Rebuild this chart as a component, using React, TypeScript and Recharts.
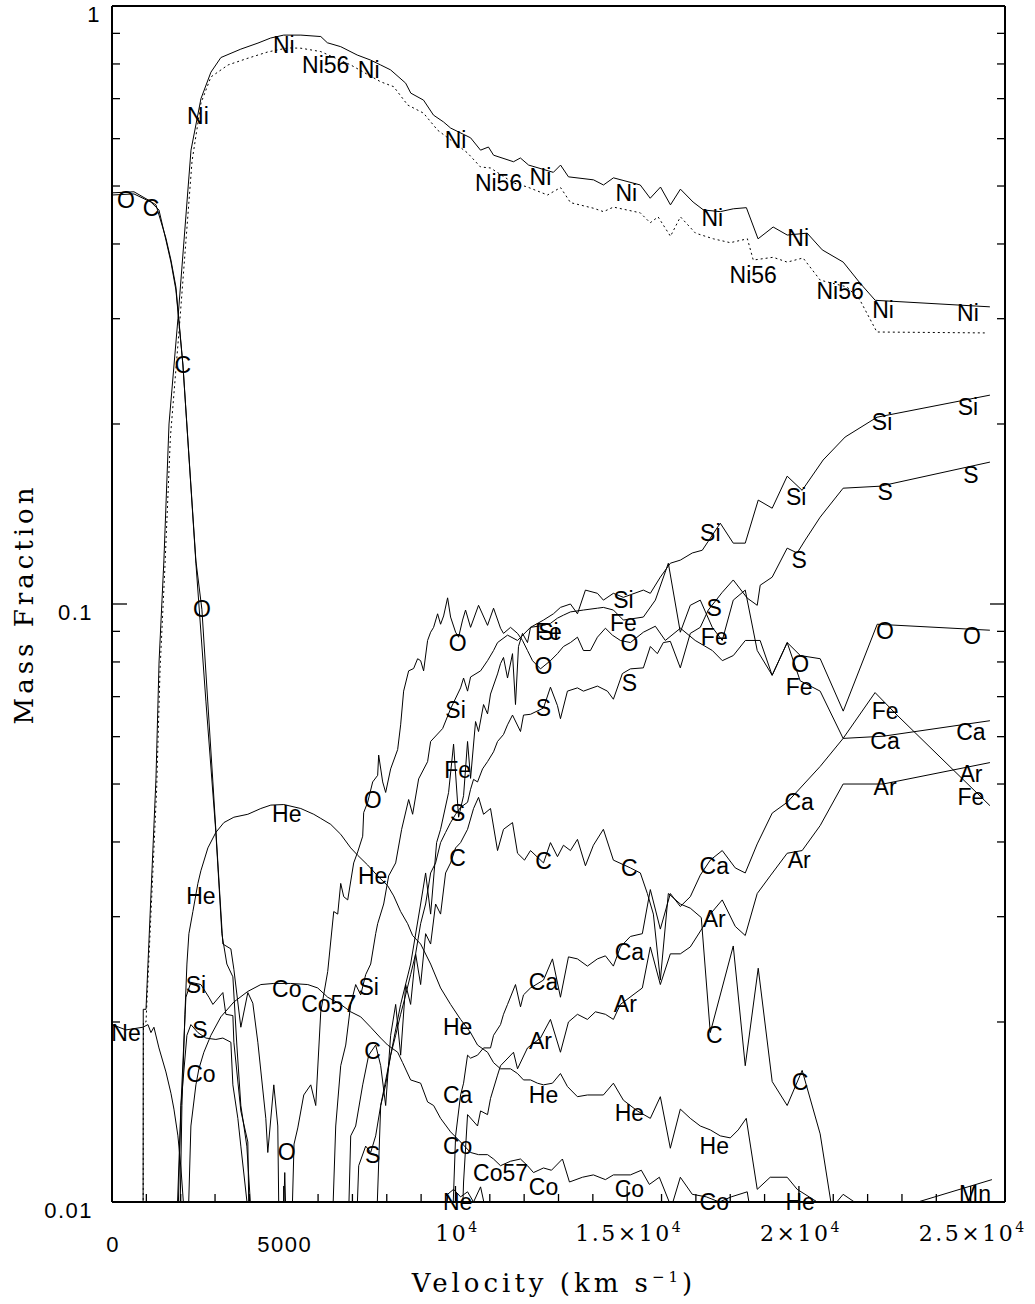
import React from 'react';
import { ComposedChart, Line, Scatter, XAxis, YAxis } from 'recharts';

type P = [number, number];

const niData: P[] = [[900,0.004],[910,0.021],[990,0.021],[1280,0.051],[1370,0.08],[1510,0.118],[1660,0.2],[1920,0.3],[2300,0.574],[2590,0.70],[2880,0.775],[3170,0.82],[3750,0.847],[4250,0.867],[4620,0.884],[5000,0.894],[5500,0.894],[6080,0.889],[6270,0.868],[6660,0.855],[7140,0.828],[7530,0.812],[7820,0.797],[8110,0.782],[8550,0.743],[8700,0.715],[9070,0.696],[9360,0.657],[9650,0.64],[9860,0.625],[10440,0.602],[10730,0.574],[10960,0.581],[11110,0.563],[11690,0.549],[11890,0.557],[12130,0.542],[12850,0.527],[13060,0.542],[13290,0.518],[14020,0.512],[14310,0.502],[14600,0.516],[15380,0.502],[15670,0.477],[15970,0.498],[16260,0.465],[16550,0.494],[16920,0.47],[17220,0.456],[17710,0.453],[18090,0.458],[18470,0.46],[18810,0.408],[19250,0.427],[19660,0.414],[20240,0.417],[20680,0.391],[21290,0.373],[21780,0.344],[22220,0.322],[25560,0.314]];

const ni56Data: P[] = [[900,0.004],[915,0.020],[990,0.020],[1300,0.049],[1400,0.078],[1540,0.115],[1700,0.19],[1960,0.29],[2330,0.55],[2590,0.688],[2880,0.761],[3380,0.797],[3960,0.818],[4540,0.838],[5120,0.851],[5500,0.85],[6080,0.839],[6950,0.797],[7820,0.747],[8200,0.733],[8610,0.683],[9070,0.662],[9480,0.62],[9860,0.597],[10350,0.568],[10730,0.538],[11020,0.536],[11690,0.506],[12100,0.498],[12680,0.483],[13060,0.497],[13350,0.469],[14020,0.459],[14310,0.453],[14600,0.461],[15380,0.451],[15670,0.434],[15900,0.444],[16260,0.412],[16550,0.444],[16990,0.417],[17510,0.408],[18000,0.402],[18500,0.408],[18670,0.376],[19250,0.38],[19660,0.373],[20120,0.379],[20620,0.348],[21400,0.339],[21780,0.322],[22270,0.285],[25410,0.284]];

const oData: P[] = [[0,0.487],[640,0.489],[1050,0.474],[1280,0.465],[1570,0.409],[1716,0.376],[1861,0.339],[2065,0.251],[2443,0.118],[2617,0.098],[2937,0.0504],[3228,0.027],[3461,0.0265],[3548,0.0245],[3751,0.0196],[3955,0.0224],[4100,0.0215],[4246,0.0185],[4478,0.0138],[4536,0.0121],[4711,0.0157],[4827,0.0134],[4900,0.006],[5030,0.0112],[5150,0.006],[5300,0.0125],[5409,0.0133],[5583,0.0151],[5787,0.0157],[5932,0.0145],[6078,0.0208],[6281,0.0243],[6456,0.0306],[6572,0.0303],[6659,0.0341],[6747,0.0324],[6863,0.032],[7037,0.0369],[7154,0.0385],[7299,0.0409],[7328,0.0448],[7444,0.0466],[7590,0.0504],[7735,0.0517],[7764,0.0559],[7881,0.0504],[7968,0.0484],[8113,0.053],[8317,0.0571],[8404,0.0628],[8491,0.0715],[8637,0.0773],[8782,0.078],[8898,0.081],[8986,0.0804],[9073,0.0773],[9189,0.0869],[9277,0.0897],[9364,0.0914],[9480,0.0963],[9567,0.0925],[9655,0.0955],[9771,0.1024],[9858,0.0951],[10004,0.0897],[10091,0.088],[10207,0.094],[10294,0.0977],[10440,0.0914],[10672,0.0995],[10934,0.0921],[11109,0.0984],[11312,0.0911],[11399,0.0893],[11603,0.0914],[11807,0.0893],[11952,0.0869],[12097,0.0836],[12243,0.0804],[12475,0.0779],[12766,0.0804],[12970,0.0826],[13144,0.0849],[13348,0.0862],[13552,0.088],[13726,0.0836],[13929,0.0836],[14133,0.088],[14366,0.0911],[14569,0.0887],[14802,0.0869],[15093,0.0862],[15471,0.0897],[15820,0.0918],[16110,0.0869],[16550,0.0911],[16980,0.0869],[17480,0.0836],[17770,0.0804],[18090,0.082],[18440,0.0869],[18870,0.0869],[19220,0.076],[19660,0.0862],[20040,0.082],[20620,0.081],[21290,0.0662],[22280,0.0925],[25560,0.0904]];

const cData: P[] = [[0,0.483],[640,0.485],[1134,0.47],[1367,0.456],[1570,0.406],[1716,0.373],[1861,0.335],[2065,0.251],[2443,0.117],[2734,0.0688],[3024,0.0415],[3199,0.0281],[3344,0.025],[3519,0.0238],[3635,0.0183],[3751,0.0145],[3926,0.0124],[4042,0.0097],[4100,0.005],[6717,0.004],[6950,0.0129],[7095,0.0134],[7299,0.0157],[7474,0.0176],[7677,0.0183],[7823,0.0169],[7968,0.0145],[8113,0.019],[8259,0.0214],[8404,0.0176],[8550,0.0231],[8695,0.0214],[8840,0.026],[8986,0.0231],[9131,0.0281],[9277,0.027],[9422,0.0315],[9567,0.0303],[9713,0.0355],[9858,0.0369],[10004,0.0391],[10149,0.0399],[10352,0.042],[10527,0.0455],[10672,0.0475],[10818,0.0445],[11021,0.0455],[11225,0.0387],[11399,0.042],[11661,0.0431],[11807,0.0383],[12010,0.0373],[12185,0.0387],[12563,0.0369],[12766,0.0399],[12970,0.0378],[13144,0.0395],[13348,0.0387],[13552,0.0404],[13784,0.0365],[14016,0.0395],[14307,0.042],[14598,0.0373],[15093,0.0362],[15383,0.0355],[15587,0.0328],[15762,0.0303],[15965,0.0235],[16198,0.0328],[16547,0.0315],[16837,0.031],[17157,0.0299],[17419,0.0192],[18088,0.0268],[18437,0.0169],[18815,0.0246],[19222,0.0159],[19658,0.0145],[20094,0.0166],[20618,0.013],[20967,0.0097],[21054,0.005]];

const heData: P[] = [[1920,0.006],[2036,0.0145],[2123,0.0206],[2181,0.025],[2239,0.0281],[2355,0.0306],[2501,0.0341],[2588,0.0358],[2792,0.0391],[3024,0.0415],[3257,0.0431],[3548,0.044],[3955,0.0445],[4333,0.0455],[4624,0.0461],[5002,0.0462],[5496,0.0455],[5874,0.0445],[6078,0.0438],[6369,0.0428],[6659,0.0412],[6950,0.0391],[7154,0.038],[7444,0.0366],[7735,0.0351],[8026,0.0338],[8201,0.0325],[8404,0.0306],[8608,0.0292],[8753,0.0279],[8986,0.027],[9277,0.025],[9567,0.0228],[9858,0.0214],[10149,0.0202],[10440,0.0192],[10643,0.0183],[10934,0.0178],[11109,0.0171],[11312,0.0167],[11603,0.0167],[11807,0.0164],[11981,0.016],[12185,0.016],[12388,0.0158],[12563,0.0157],[12824,0.0158],[13057,0.0164],[13260,0.0156],[13551,0.015],[13842,0.0151],[14307,0.0151],[14598,0.0158],[14889,0.0148],[15296,0.0142],[15674,0.0138],[15965,0.015],[16256,0.0123],[16547,0.0143],[16837,0.0138],[17128,0.0134],[17419,0.0132],[17710,0.0129],[18001,0.0128],[18233,0.0132],[18466,0.0138],[18786,0.0105],[19164,0.011],[19658,0.011],[19949,0.0105],[20414,0.0101],[20909,0.0097],[21287,0.0103],[21956,0.0097],[22072,0.006]];

const coData: P[] = [[2123,0.006],[2297,0.0134],[2443,0.0157],[2530,0.0167],[2675,0.0178],[2879,0.019],[3170,0.0204],[3548,0.0216],[3955,0.0225],[4333,0.0231],[4711,0.0232],[5205,0.0232],[5700,0.0231],[5990,0.0228],[6281,0.022],[6659,0.0214],[6950,0.0208],[7241,0.0204],[7532,0.0196],[7823,0.0188],[8026,0.0183],[8317,0.0178],[8462,0.0171],[8695,0.016],[8986,0.0158],[9189,0.0147],[9364,0.0145],[9567,0.0138],[9858,0.0131],[10149,0.0126],[10440,0.0121],[10672,0.012],[10934,0.012],[11109,0.0118],[11312,0.0115],[11603,0.0117],[11894,0.0118],[12097,0.0115],[12272,0.0112],[12563,0.0114],[12795,0.0113],[13115,0.0118],[13319,0.0108],[13697,0.011],[14016,0.0111],[14366,0.0109],[14598,0.0111],[15093,0.0111],[15412,0.0113],[15645,0.0107],[15936,0.011],[16285,0.0098],[16547,0.011],[16895,0.0103],[17303,0.0102],[17681,0.01],[18030,0.0102],[18495,0.0104],[18582,0.0097],[18640,0.006]];

const neData: P[] = [[0,0.0198],[407,0.0194],[901,0.0196],[1047,0.0198],[1134,0.0192],[1221,0.0196],[1367,0.0181],[1570,0.0165],[1716,0.0152],[1803,0.0143],[1919,0.0129],[2007,0.0114],[2094,0.0097],[2152,0.006],[9567,0.006],[9771,0.0103],[9945,0.0105],[10149,0.0102],[10352,0.0104],[10527,0.01],[10731,0.0106],[10876,0.0097],[10934,0.006]];

const mnData: P[] = [[22700,0.0097],[25620,0.0109]];

const siData: P[] = [[1774,0.006],[2007,0.0145],[2152,0.022],[2297,0.0233],[2588,0.0231],[2821,0.022],[2937,0.0214],[3228,0.0224],[3315,0.0206],[3519,0.0205],[3548,0.0185],[3751,0.0142],[3955,0.0126],[3984,0.0097],[4042,0.006],[6310,0.006],[6514,0.0134],[6659,0.0169],[6805,0.0183],[6950,0.0214],[7095,0.0231],[7241,0.0222],[7386,0.024],[7532,0.025],[7677,0.0281],[7735,0.0292],[7910,0.0315],[8055,0.0351],[8259,0.0369],[8433,0.042],[8637,0.0471],[8753,0.0445],[8928,0.051],[9189,0.0545],[9277,0.0589],[9626,0.0619],[9858,0.0668],[10149,0.0724],[10236,0.0752],[10352,0.0715],[10440,0.0755],[10731,0.0773],[10934,0.0804],[11109,0.0836],[11225,0.0862],[11516,0.0887],[11807,0.0869],[12185,0.0914],[12563,0.094],[12853,0.0963],[13057,0.0987],[13348,0.1],[13552,0.0963],[13784,0.1055],[14133,0.1042],[14307,0.1015],[14598,0.1042],[14889,0.1026],[15471,0.1055],[15674,0.1042],[15965,0.1109],[16256,0.117],[16547,0.1184],[16895,0.1217],[17186,0.123],[17710,0.1365],[18088,0.1264],[18437,0.1264],[18815,0.1492],[19222,0.1446],[19658,0.1636],[20094,0.1549],[20705,0.1741],[21345,0.1902],[22275,0.2053],[25561,0.2235]];

const sData: P[] = [[1832,0.006],[2007,0.0145],[2181,0.019],[2297,0.0198],[2501,0.0192],[2734,0.0188],[3024,0.0187],[3228,0.0188],[3461,0.0185],[3519,0.0157],[3664,0.0138],[3751,0.0124],[3955,0.0097],[4013,0.006],[7008,0.006],[7183,0.0115],[7386,0.0124],[7532,0.0121],[7677,0.0129],[7823,0.0145],[7968,0.0157],[8113,0.0176],[8259,0.019],[8404,0.0206],[8550,0.0222],[8695,0.024],[8840,0.026],[8986,0.0292],[9131,0.0315],[9277,0.0355],[9422,0.0369],[9567,0.0399],[9713,0.0415],[9858,0.0431],[10004,0.0445],[10149,0.0457],[10352,0.0466],[10440,0.049],[10527,0.0509],[10643,0.0504],[10789,0.053],[10934,0.0545],[11109,0.0566],[11225,0.0589],[11399,0.0605],[11516,0.0628],[11661,0.0652],[11894,0.0612],[11981,0.0652],[12185,0.0654],[12563,0.067],[12766,0.0726],[12970,0.0676],[13057,0.0643],[13260,0.0715],[13551,0.0724],[13726,0.0715],[14133,0.0729],[14424,0.0715],[14598,0.0693],[14860,0.0765],[15093,0.0779],[15471,0.0782],[15674,0.0849],[15878,0.0826],[16052,0.0862],[16256,0.0866],[16547,0.0782],[16837,0.0893],[17128,0.0914],[17361,0.0977],[17768,0.1046],[18088,0.1097],[18495,0.1023],[18786,0.0995],[18873,0.1075],[19222,0.1109],[19658,0.124],[19949,0.1217],[20182,0.1279],[20618,0.1397],[21287,0.1562],[22363,0.1574],[25561,0.1727]];

const feData: P[] = [[7590,0.006],[7823,0.0145],[8113,0.0176],[8404,0.0214],[8695,0.025],[8986,0.0315],[9131,0.0355],[9277,0.0303],[9451,0.0399],[9567,0.042],[9800,0.0484],[9945,0.0583],[10091,0.044],[10236,0.0478],[10352,0.0589],[10440,0.0511],[10585,0.0636],[10672,0.0612],[10818,0.0679],[10934,0.0655],[11021,0.0707],[11225,0.0764],[11312,0.0795],[11399,0.0814],[11516,0.0752],[11661,0.0826],[11748,0.0679],[11835,0.0849],[11952,0.0893],[12097,0.0862],[12185,0.0914],[12563,0.0921],[12766,0.0928],[12970,0.0947],[13144,0.0958],[13348,0.097],[13726,0.0977],[14133,0.0984],[14307,0.0987],[14598,0.0977],[14889,0.094],[15471,0.0951],[15820,0.1015],[16198,0.117],[16547,0.0897],[16837,0.0995],[17128,0.1015],[17477,0.0914],[17768,0.0869],[18088,0.1015],[18437,0.1055],[18786,0.0836],[19222,0.076],[19658,0.0862],[20036,0.0744],[20618,0.0715],[21287,0.0596],[22217,0.0711],[22857,0.0652],[25561,0.046]];

const caData: P[] = [[9800,0.006],[10004,0.0129],[10149,0.0151],[10236,0.0158],[10352,0.0176],[10440,0.0174],[10643,0.0176],[10818,0.0181],[11021,0.0181],[11109,0.019],[11312,0.0198],[11399,0.0206],[11516,0.0214],[11748,0.0231],[11894,0.0212],[11981,0.0222],[12185,0.0228],[12563,0.0235],[12824,0.0255],[13057,0.022],[13290,0.0257],[13551,0.0255],[13842,0.0248],[14133,0.0255],[14366,0.0258],[14598,0.0248],[14802,0.0267],[15093,0.0278],[15441,0.0281],[15674,0.0333],[15965,0.0286],[16256,0.0328],[16547,0.0312],[16837,0.0324],[17128,0.0352],[17419,0.0373],[17768,0.0387],[18146,0.0362],[18437,0.0355],[18786,0.0397],[19222,0.0447],[19658,0.0466],[20618,0.0535],[21287,0.0596],[22450,0.0601],[25561,0.0638]];

const arData: P[] = [[10091,0.006],[10236,0.0108],[10352,0.014],[10643,0.0134],[10731,0.0142],[10934,0.014],[11021,0.0149],[11225,0.0163],[11312,0.0169],[11690,0.0178],[11807,0.0167],[12097,0.0181],[12475,0.0188],[12766,0.0202],[13057,0.0178],[13290,0.02],[13551,0.0206],[13842,0.0202],[14075,0.0208],[14366,0.0206],[14598,0.0202],[14802,0.0214],[15441,0.0228],[15674,0.0267],[15965,0.0231],[16256,0.026],[16547,0.026],[16837,0.0267],[17186,0.0287],[17419,0.0303],[17768,0.032],[18146,0.0289],[18437,0.0279],[18786,0.0328],[19164,0.0351],[19658,0.0383],[20094,0.0387],[20618,0.0426],[21287,0.05],[22450,0.05],[25561,0.0543]];

// label text, velocity, mass fraction
const labels: [string, number, number][] = [
  ['O',407,0.474],['O',2617,0.098],['O',5089,0.0121],['O',7590,0.047],['O',10062,0.0862],['O',12563,0.0788],['O',15064,0.0862],['O',20036,0.0795],['O',22508,0.09],['O',25038,0.0883],
  ['C',1134,0.459],['C',2065,0.251],['C',7590,0.0179],['C',10062,0.0376],['C',12563,0.0372],['C',15064,0.0362],['C',17535,0.019],['C',20036,0.0159],
  ['Ni',2501,0.655],['Ni',5002,0.86],['Ni',7474,0.782],['Ni',10004,0.597],['Ni',12475,0.518],['Ni',14976,0.487],['Ni',17477,0.442],['Ni',19978,0.409],['Ni',22450,0.31],['Ni',24922,0.3065],
  ['Ni56',6223,0.797],['Ni56',11254,0.506],['Ni56',18670,0.355],['Ni56',21199,0.334],
  ['He',2588,0.0325],['He',5089,0.0445],['He',7590,0.0351],['He',10062,0.0196],['He',12563,0.0151],['He',15064,0.0141],['He',17535,0.0124],['He',20036,0.01],
  ['Si',2443,0.0231],['Si',7474,0.0229],['Si',10004,0.0665],['Si',12708,0.0897],['Si',14889,0.1015],['Si',17419,0.1313],['Si',19920,0.1509],['Si',22421,0.2014],['Si',24922,0.2134],
  ['Fe',10062,0.0528],['Fe',12708,0.0897],['Fe',14889,0.0928],['Fe',17535,0.088],['Fe',20007,0.0726],['Fe',22508,0.0662],['Fe',25009,0.0475],
  ['S',2559,0.0194],['S',7590,0.012],['S',10062,0.0448],['S',12563,0.067],['S',15064,0.0738],['S',17535,0.0984],['S',20007,0.1184],['S',22508,0.1539],['S',25009,0.1646],
  ['Ca',10062,0.0151],['Ca',12563,0.0233],['Ca',15064,0.0262],['Ca',17535,0.0365],['Ca',20007,0.0466],['Ca',22508,0.0589],['Ca',25009,0.0612],
  ['Ar',12475,0.0186],['Ar',14947,0.0214],['Ar',17535,0.0297],['Ar',20007,0.0373],['Ar',22508,0.0495],['Ar',25009,0.0519],
  ['Co',2588,0.0164],['Co',5089,0.0227],['Co',10062,0.0124],['Co',12563,0.0106],['Co',15064,0.0105],['Co',17535,0.0100],
  ['Co57',6310,0.0214],['Co57',11312,0.0112],
  ['Ne',407,0.0192],['Ne',10062,0.0100],
  ['Mn',25125,0.0103],
];

const xTicks: number[] = Array.from({ length: 27 }, (_, i) => i * 1000);
const yTicks: number[] = [0.01,0.02,0.03,0.04,0.05,0.06,0.07,0.08,0.09,0.1,0.2,0.3,0.4,0.5,0.6,0.7,0.8,0.9,1];
const yMajorLabels: Record<string, string> = { '1': '1', '0.1': '0.1', '0.01': '0.01' };
const xMajorLabels: Record<number, [string, string]> = {
  0: ['0', ''], 5000: ['5000', ''], 10000: ['10', '4'], 15000: ['1.5×10', '4'], 20000: ['2×10', '4'], 25000: ['2.5×10', '4'],
};

const SANS = 'Liberation Sans, Arial, Helvetica, sans-serif';
const SERIF = 'DejaVu Serif, serif';

const pts = (a: P[]) => a.map(([v, y]) => ({ v, y }));
const labelPts = labels.map(([t, v, y]) => ({ t, v, y }));

const isMajorY = (v: number) => [0.01, 0.1, 1].some((m) => Math.abs(v - m) < 1e-9);

function BottomTick(props: any) {
  const { x, y, payload } = props;
  const v = payload.value as number;
  const major = v % 5000 === 0;
  const lab = xMajorLabels[v];
  return (
    <g>
      <line x1={x} y1={y} x2={x} y2={y - (major ? 16 : 8)} stroke="#000" strokeWidth={1.3} />
      {lab && v < 10000 && (
        <text x={x + 1} y={y + 50} textAnchor="middle" fontFamily={SANS} fontSize={22} letterSpacing={1.5} fill="#000">{lab[0]}</text>
      )}
      {lab && v >= 10000 && (
        <text x={x + 2} y={y + 39} textAnchor="middle" fontFamily={SERIF} fontSize={22} letterSpacing={2.5} fill="#000">
          {lab[0]}<tspan dy={-9} fontSize={14}>{lab[1]}</tspan>
        </text>
      )}
    </g>
  );
}

function TopTick(props: any) {
  const { x, y, payload } = props;
  const major = (payload.value as number) % 5000 === 0;
  return <line x1={x} y1={y} x2={x} y2={y + (major ? 16 : 9)} stroke="#000" strokeWidth={1.3} />;
}

function LeftTick(props: any) {
  const { x, y, payload } = props;
  const v = payload.value as number;
  const major = isMajorY(v);
  const txt = major ? yMajorLabels[String(v)] : '';
  return (
    <g>
      <line x1={x} y1={y} x2={x + (major ? 15 : 8)} y2={y} stroke="#000" strokeWidth={1.3} />
      {txt && (
        <text x={txt === '1' ? x - 11 : x - 19} y={y + 16} textAnchor="end" fontFamily={SANS} fontSize={22} letterSpacing={1.5} fill="#000">{txt}</text>
      )}
    </g>
  );
}

function RightTick(props: any) {
  const { x, y, payload } = props;
  const major = isMajorY(payload.value as number);
  return <line x1={x} y1={y} x2={x - (major ? 15 : 8)} y2={y} stroke="#000" strokeWidth={1.3} />;
}

const renderLabel = (p: any) => (
  <text x={p.cx} y={p.cy} textAnchor="middle" dominantBaseline="central" fontFamily={SANS} fontSize={23} fill="#000">
    {p.payload.t}
  </text>
);

const series: { key: string; data: P[]; dash?: string }[] = [
  { key: 'Ni', data: niData },
  { key: 'Ni56', data: ni56Data, dash: '2 3' },
  { key: 'O', data: oData },
  { key: 'C', data: cData },
  { key: 'He', data: heData },
  { key: 'Co', data: coData },
  { key: 'Ne', data: neData },
  { key: 'Mn', data: mnData },
  { key: 'Si', data: siData },
  { key: 'S', data: sData },
  { key: 'Fe', data: feData },
  { key: 'Ca', data: caData },
  { key: 'Ar', data: arData },
];

export default function App() {
  const axisLine = { stroke: '#000', strokeWidth: 2 };
  return (
    <div style={{ position: 'absolute', left: 0, top: 0, width: 1035, height: 1304, background: '#fff' }}>
      <ComposedChart width={1035} height={1304} margin={{ top: 5, right: 29, bottom: 101, left: 111 }}>
        <XAxis xAxisId="b" type="number" dataKey="v" domain={[0, 26000]} ticks={xTicks} interval={0} height={1}
          tickSize={0} tickMargin={0} tickLine={false} axisLine={axisLine} tick={BottomTick} orientation="bottom" />
        <XAxis xAxisId="t" type="number" dataKey="v" domain={[0, 26000]} ticks={xTicks} interval={0} height={1}
          tickSize={0} tickMargin={0} tickLine={false} axisLine={axisLine} tick={TopTick} orientation="top" />
        <YAxis yAxisId="m" type="number" scale="log" domain={[0.01, 1]} allowDataOverflow ticks={yTicks} interval={0}
          width={1} tickSize={0} tickMargin={0} tickLine={false} axisLine={axisLine} tick={LeftTick} orientation="left" />
        <YAxis yAxisId="r" type="number" scale="log" domain={[0.01, 1]} ticks={yTicks} interval={0}
          width={1} tickSize={0} tickMargin={0} tickLine={false} axisLine={axisLine} tick={RightTick} orientation="right" />
        {series.map((s) => (
          <Line key={s.key} xAxisId="b" yAxisId="m" data={pts(s.data)} dataKey="y" type="linear" stroke="#000"
            strokeWidth={1} strokeDasharray={s.dash} dot={false} activeDot={false} isAnimationActive={false} />
        ))}
        <Scatter xAxisId="b" yAxisId="r" data={labelPts} dataKey="y" shape={renderLabel} isAnimationActive={false} />
      </ComposedChart>
      <svg width={1035} height={1304} style={{ position: 'absolute', left: 0, top: 0, pointerEvents: 'none' }}>
        <text x={554} y={1292} textAnchor="middle" fontFamily={SERIF} fontSize={26} letterSpacing={4} fill="#000">
          Velocity (km s<tspan dy={-10} fontSize={15}>−1</tspan><tspan dy={10}>)</tspan>
        </text>
        <text x={33} y={604} textAnchor="middle" fontFamily={SERIF} fontSize={26} letterSpacing={4} fill="#000"
          transform="rotate(-90 33 604)">Mass Fraction</text>
      </svg>
    </div>
  );
}
